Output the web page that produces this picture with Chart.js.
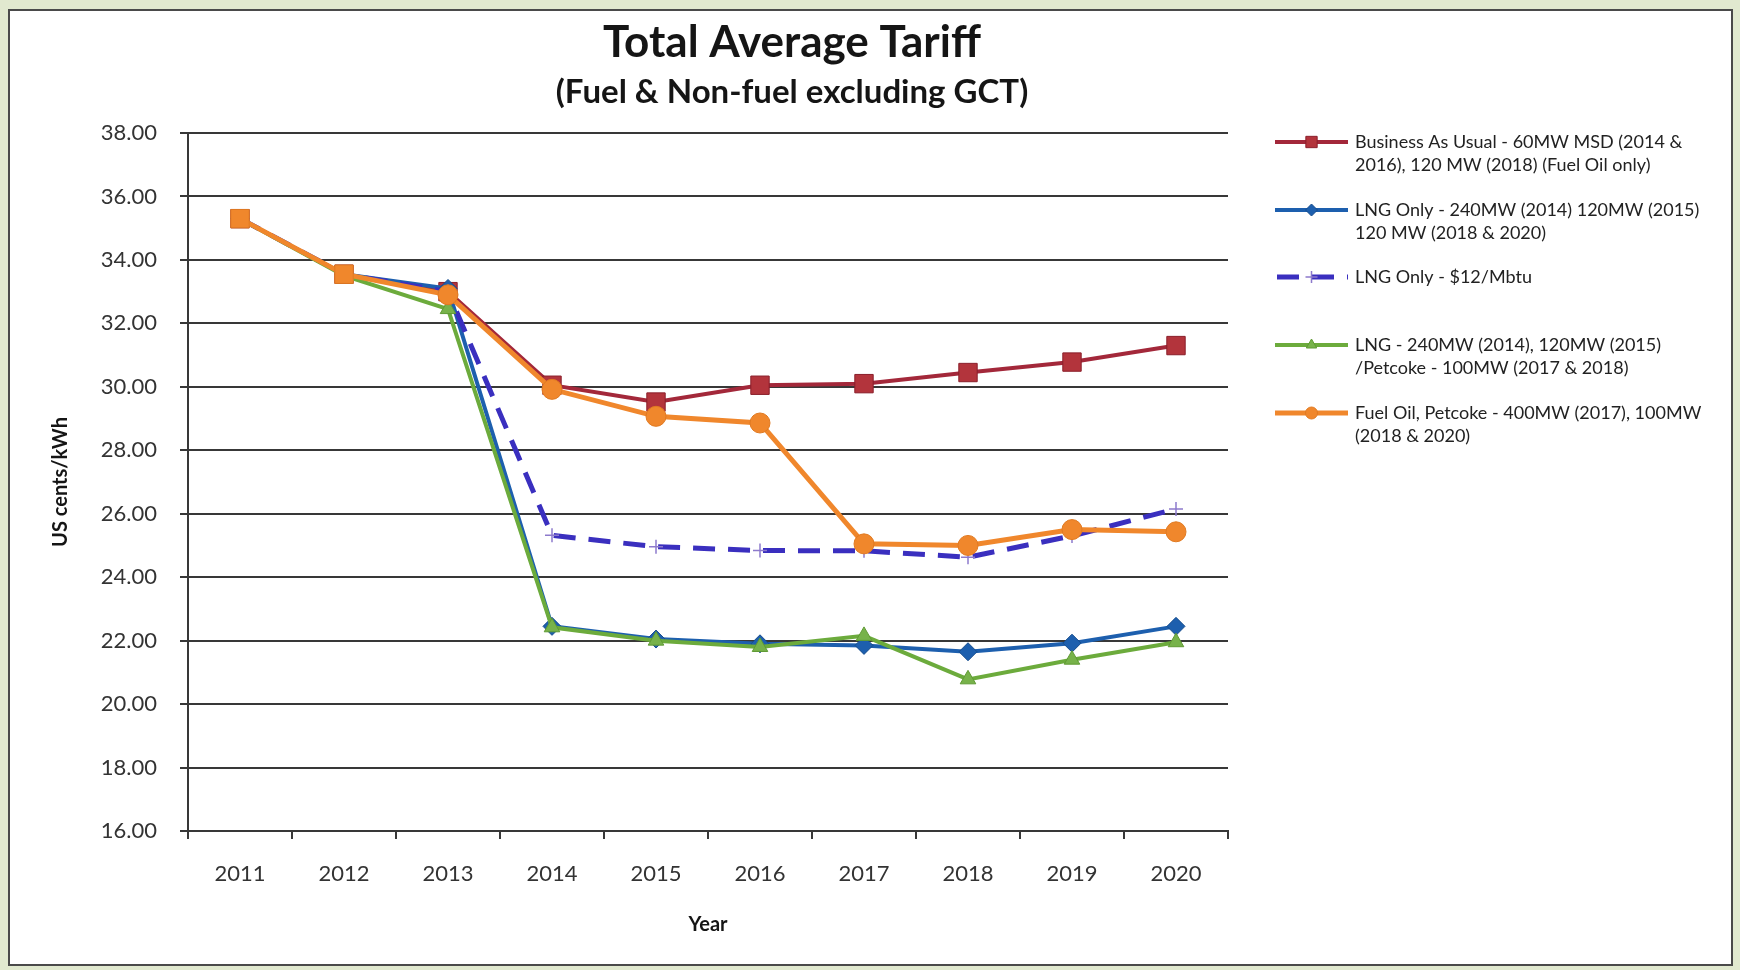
<!DOCTYPE html>
<html>
<head>
<meta charset="utf-8">
<title>Total Average Tariff</title>
<script src="https://cdn.jsdelivr.net/npm/chart.js@4.4.1/dist/chart.umd.min.js"></script>
<style>
    html, body { margin: 0; padding: 0; background: #e1e9cf; }
    #frame {
        position: absolute; left: 8px; top: 9px;
        width: 1721px; height: 953px;
        background: #fff; border: 2px solid #4a4a4a;
    }
    #wrap { position: absolute; left: 0; top: 0; width: 1740px; height: 970px; }
</style>
</head>
<body>
<div id="frame"></div>
<div id="wrap"><canvas id="tariffChart" width="1740" height="970"></canvas></div>
<script>
'use strict';

// ---------------------------------------------------------------------------
// data (US cents/kWh)
// ---------------------------------------------------------------------------

const YEARS = ['2011', '2012', '2013', '2014', '2015', '2016', '2017', '2018', '2019', '2020'];

const BUSINESS_AS_USUAL = [35.30, 33.55, 33.00, 30.05, 29.52, 30.05, 30.10, 30.45, 30.78, 31.30];
const LNG_ONLY          = [35.30, 33.55, 33.10, 22.45, 22.05, 21.90, 21.85, 21.65, 21.92, 22.45];
const LNG_ONLY_12       = [35.30, 33.55, 33.00, 25.32, 24.96, 24.84, 24.83, 24.63, 25.30, 26.15];
const LNG_PETCOKE       = [35.30, 33.50, 32.45, 22.42, 22.00, 21.80, 22.15, 20.78, 21.40, 21.95];
const FUEL_OIL_PETCOKE  = [35.30, 33.55, 32.90, 29.92, 29.07, 28.86, 25.05, 25.00, 25.50, 25.43];

const Y_MIN  = 16;
const Y_MAX  = 38;
const Y_STEP = 2;

const LEGEND_LABELS = [
    ['Business As Usual - 60MW MSD (2014 &', '2016), 120 MW (2018) (Fuel Oil only)'],
    ['LNG Only - 240MW (2014) 120MW (2015)', '120 MW (2018 & 2020)'],
    ['LNG Only - $12/Mbtu'],
    ['LNG - 240MW (2014), 120MW (2015)', '/Petcoke - 100MW (2017 & 2018)'],
    ['Fuel Oil, Petcoke - 400MW (2017), 100MW', '(2018 & 2020)'],
];

const TITLE    = 'Total Average Tariff';
const SUBTITLE = '(Fuel & Non-fuel excluding GCT)';

const FONT = 'Lato, "Open Sans", sans-serif';
const GRID = '#383838';

// ---------------------------------------------------------------------------
// plugins: title block and side legend drawn on the canvas
// ---------------------------------------------------------------------------

const titleBlock = {
    id: 'titleBlock',
    afterDraw(chart) {
        const ctx = chart.ctx;
        ctx.save();
        ctx.fillStyle = '#151515';
        ctx.textAlign = 'center';
        ctx.textBaseline = 'middle';
        ctx.font = `bold 44px ${FONT}`;
        ctx.fillText(TITLE, 792, 43);
        ctx.font = `bold 33px ${FONT}`;
        ctx.fillText(SUBTITLE, 792, 92);
        ctx.restore();
    },
};

const sideLegend = {
    id: 'sideLegend',
    afterDraw(chart) {
        const ctx   = chart.ctx;
        const rowY  = [142, 210, 277, 345, 413];
        const x0    = 1275;
        const x1    = 1348;
        const textX = 1355;

        chart.data.datasets.forEach((ds, i) => {
            const y = rowY[i];
            ctx.save();
            ctx.strokeStyle = ds.borderColor;
            ctx.lineWidth   = ds.borderWidth;
            ctx.setLineDash(ds.borderDash || []);
            ctx.lineDashOffset = ds.borderDash ? -2 : 0;
            ctx.beginPath();
            ctx.moveTo(x0, y);
            ctx.lineTo(x1, y);
            ctx.stroke();
            ctx.setLineDash([]);

            ctx.fillStyle   = ds.pointBackgroundColor;
            ctx.strokeStyle = ds.pointBorderColor;
            ctx.lineWidth   = ds.pointBorderWidth;
            Chart.helpers.drawPoint(ctx, {
                pointStyle: ds.legendPointStyle,
                radius: ds.legendPointStyle === 'rect' ? 8 : 6,
                borderWidth: ds.pointBorderWidth,
                rotation: 0,
            }, (x0 + x1) / 2, y);

            ctx.fillStyle    = '#222';
            ctx.font         = `18px ${FONT}`;
            ctx.textAlign    = 'left';
            ctx.textBaseline = 'middle';
            LEGEND_LABELS[i].forEach((line, k) => ctx.fillText(line, textX, y + k * 23));
            ctx.restore();
        });
    },
};

// ---------------------------------------------------------------------------
// chart
// ---------------------------------------------------------------------------

const datasets = [
    {
        label: LEGEND_LABELS[0].join(' '),
        data: BUSINESS_AS_USUAL,
        borderColor: '#a3283a',
        borderWidth: 4,
        pointStyle: 'rect',
        legendPointStyle: 'rect',
        pointRadius: 13,
        pointBackgroundColor: '#b3343c',
        pointBorderColor: '#8a1e2a',
        pointBorderWidth: 1,
        order: 5,
    },
    {
        label: LEGEND_LABELS[1].join(' '),
        data: LNG_ONLY,
        borderColor: '#1d5fae',
        borderWidth: 4,
        pointStyle: 'rectRot',
        legendPointStyle: 'rectRot',
        pointRadius: 9,
        pointBackgroundColor: '#1d5fae',
        pointBorderColor: '#164c8c',
        pointBorderWidth: 1,
        order: 4,
    },
    {
        label: LEGEND_LABELS[2].join(' '),
        data: LNG_ONLY_12,
        borderColor: '#3a2fbf',
        borderWidth: 5,
        borderDash: [22, 13],
        pointStyle: 'cross',
        legendPointStyle: 'cross',
        pointRadius: 7,
        pointBackgroundColor: '#9a86d6',
        pointBorderColor: '#8d7acc',
        pointBorderWidth: 1.5,
        order: 3,
    },
    {
        label: LEGEND_LABELS[3].join(' '),
        data: LNG_PETCOKE,
        borderColor: '#6cab3c',
        borderWidth: 4,
        pointStyle: 'triangle',
        legendPointStyle: 'triangle',
        pointRadius: 9,
        pointBackgroundColor: '#77b24a',
        pointBorderColor: '#5f9a33',
        pointBorderWidth: 1,
        order: 2,
    },
    {
        label: LEGEND_LABELS[4].join(' '),
        data: FUEL_OIL_PETCOKE,
        borderColor: '#f0872c',
        borderWidth: 5,
        pointStyle: ['rect', 'rect', 'circle', 'circle', 'circle', 'circle', 'circle', 'circle', 'circle', 'circle'],
        legendPointStyle: 'circle',
        pointRadius: [13, 13, 10, 10, 10, 10, 10, 10, 10, 10],
        pointBackgroundColor: '#f0872c',
        pointBorderColor: '#e07a22',
        pointBorderWidth: 1,
        order: 1,
    },
];

new Chart(document.getElementById('tariffChart'), {
    type: 'line',
    data: { labels: YEARS, datasets },
    plugins: [titleBlock, sideLegend],
    options: {
        responsive: false,
        animation: false,
        layout: { padding: { left: 0, right: 512, top: 133, bottom: 0 } },
        elements: { line: { tension: 0 } },
        plugins: {
            legend:  { display: false },
            tooltip: { enabled: false },
        },
        scales: {
            x: {
                offset: true,
                grid: {
                    offset: true,
                    drawOnChartArea: false,
                    drawTicks: true,
                    tickLength: 8,
                    color: GRID,
                    lineWidth: 2,
                },
                border: { display: true, color: GRID, width: 2 },
                ticks: {
                    padding: 22,
                    color: '#333',
                    font: { family: FONT, size: 22 },
                },
                title: {
                    display: true,
                    text: 'Year',
                    color: '#151515',
                    font: { family: FONT, size: 20, weight: 'bold' },
                    padding: { top: 0, bottom: 33 },
                },
                afterFit: (s) => { s.height = 139; },
            },
            y: {
                min: Y_MIN,
                max: Y_MAX,
                grid: {
                    color: GRID,
                    lineWidth: 2,
                    drawTicks: true,
                    tickLength: 8,
                },
                border: { display: true, color: GRID, width: 2 },
                ticks: {
                    stepSize: Y_STEP,
                    padding: 23,
                    color: '#333',
                    font: { family: FONT, size: 22 },
                    callback: (v) => Number(v).toFixed(2),
                },
                title: {
                    display: true,
                    text: 'US cents/kWh',
                    color: '#151515',
                    font: { family: FONT, size: 20, weight: 'bold' },
                    padding: { top: 49, bottom: 0 },
                },
                afterFit: (s) => { s.width = 188; },
            },
        },
    },
});
</script>
</body>
</html>
